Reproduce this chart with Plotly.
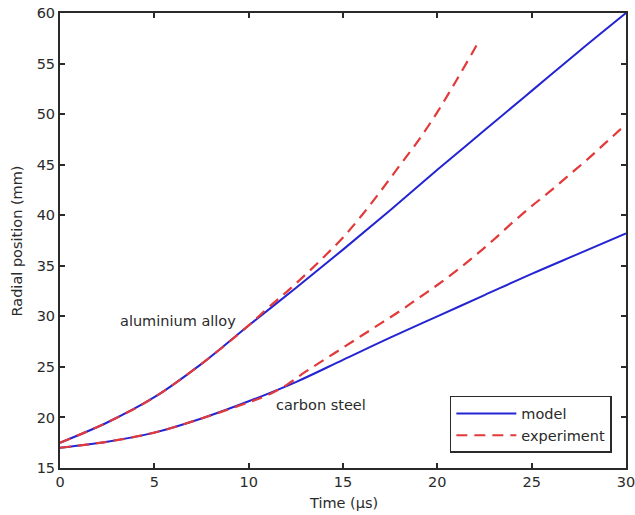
import plotly.graph_objects as go

# Aluminium alloy: model prediction and measured expansion
al_model_t = [0, 2.5, 5, 7.5, 10, 12.5, 15, 17.5, 20, 22.5, 25, 27.5, 30]
al_model_r = [17.5, 19.5, 22.0, 25.3, 29.1, 32.8, 36.6, 40.5, 44.5, 48.4, 52.3, 56.2, 60.0]

al_exp_t = [0, 2.5, 5, 7.5, 10, 11, 12, 13, 14, 15, 16, 17, 18, 19, 20, 21, 22.2]
al_exp_r = [17.5, 19.5, 22.0, 25.3, 29.1, 30.8, 32.4, 34.1, 35.9, 37.8, 40.0, 42.4, 44.9, 47.4, 50.2, 53.3, 57.2]

# Carbon steel: model prediction and measured expansion
cs_model_t = [0, 2.5, 5, 7.5, 10, 12.5, 15, 17.5, 20, 22.5, 25, 27.5, 30]
cs_model_r = [17.0, 17.6, 18.5, 19.9, 21.6, 23.5, 25.7, 27.9, 30.0, 32.1, 34.2, 36.2, 38.2]

cs_exp_t = [0, 2.5, 5, 7.5, 10, 11, 12, 13, 14, 15, 16, 17, 18, 19, 20, 21, 22, 23, 24, 25, 26, 27, 28, 29, 30]
cs_exp_r = [17.0, 17.6, 18.5, 19.9, 21.5, 22.2, 23.2, 24.5, 25.7, 26.9, 28.1, 29.3, 30.5, 31.8, 33.1,
            34.5, 36.0, 37.6, 39.3, 40.9, 42.4, 44.0, 45.6, 47.3, 49.0]

x_ticks = [0, 5, 10, 15, 20, 25, 30]
y_ticks = [15, 20, 25, 30, 35, 40, 45, 50, 55, 60]

BLUE = "#2424d2"
RED = "#e2393a"
INK = "#2a2a2a"
FONT = dict(family="DejaVu Sans", size=14.5, color=INK)

fig = go.Figure()

model_line = dict(color=BLUE, width=2)
exp_line = dict(color=RED, width=2.2, dash="11px,7px")

fig.add_trace(go.Scatter(x=al_model_t, y=al_model_r, mode="lines", name="model",
                         legendgroup="model", line=model_line, line_shape="spline"))
fig.add_trace(go.Scatter(x=cs_model_t, y=cs_model_r, mode="lines", name="model",
                         legendgroup="model", showlegend=False, line=model_line,
                         line_shape="spline"))
fig.add_trace(go.Scatter(x=al_exp_t, y=al_exp_r, mode="lines", name="experiment",
                         legendgroup="exp", line=exp_line, line_shape="spline"))
fig.add_trace(go.Scatter(x=cs_exp_t, y=cs_exp_r, mode="lines", name="experiment",
                         legendgroup="exp", showlegend=False, line=exp_line,
                         line_shape="spline"))

axis_style = dict(
    ticks="inside", ticklen=5, tickwidth=1.5, tickcolor=INK,
    showline=True, linecolor=INK, linewidth=2, mirror="ticks",
    showgrid=False, zeroline=False, tickfont=FONT, automargin=False,
    ticklabeloverflow="allow",
)

fig.update_xaxes(range=[0, 30], tickvals=x_ticks, ticktext=[str(v) for v in x_ticks],
                 **axis_style)
fig.update_yaxes(range=[15, 60], tickvals=y_ticks, ticktext=[str(v) for v in y_ticks],
                 **axis_style)

# Axis titles
fig.add_annotation(x=0.5, y=-0.077, xref="paper", yref="paper", text="Time (μs)",
                   showarrow=False, font=FONT, xanchor="center", yanchor="middle")
fig.add_annotation(x=-0.076, y=0.5, xref="paper", yref="paper", text="Radial position (mm)",
                   showarrow=False, font=FONT, textangle=-90, xanchor="center", yanchor="middle")

# Curve labels
fig.add_annotation(x=6.28, y=29.5, text="aluminium alloy", showarrow=False, font=FONT)
fig.add_annotation(x=13.83, y=21.2, text="carbon steel", showarrow=False, font=FONT)

fig.update_layout(
    width=635, height=515,
    margin=dict(l=60, r=9, t=13, b=47, autoexpand=False),
    paper_bgcolor="white", plot_bgcolor="white",
    font=FONT,
    showlegend=True,
    legend=dict(x=0.975, y=0.033, xanchor="right", yanchor="bottom",
                bgcolor="white", bordercolor=INK, borderwidth=1.5,
                font=FONT, tracegroupgap=0, itemwidth=60),
)

fig.write_html("out.html")
